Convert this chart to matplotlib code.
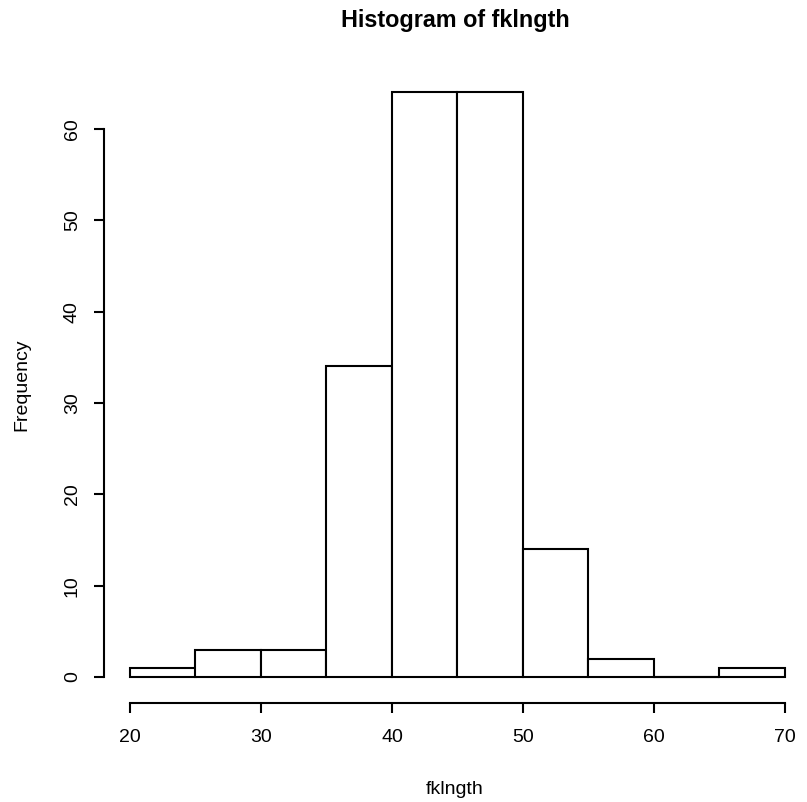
import matplotlib
matplotlib.use("Agg")
import matplotlib.pyplot as plt

plt.rcParams['font.family'] = ['Liberation Sans', 'DejaVu Sans']

bin_edges = [20, 25, 30, 35, 40, 45, 50, 55, 60, 65, 70]
counts = [1, 3, 3, 34, 64, 64, 14, 2, 0, 1]
x_ticks = [20, 30, 40, 50, 60, 70]
y_ticks = [0, 10, 20, 30, 40, 50, 60]

fig = plt.figure(figsize=(8.07, 8.02), dpi=100)
ax = fig.add_axes([103.8 / 807, (802 - 700.4) / 802, 707.4 / 807, 631.3 / 802])

lefts = bin_edges[:-1]
widths = [b - a for a, b in zip(bin_edges[:-1], bin_edges[1:])]
ax.bar(lefts, counts, width=widths, align='edge', facecolor='white',
       edgecolor='black', linewidth=1.5)
# zero-height bins still draw as a line in R
for l, w, c in zip(lefts, widths, counts):
    if c == 0:
        ax.plot([l, l + w], [0, 0], color='black', lw=1.5)

ax.set_xlim(18, 72)
ax.set_ylim(-2.56, 66.56)

for s in ['top', 'right']:
    ax.spines[s].set_visible(False)
ax.spines['left'].set_bounds(0, 60)
ax.spines['bottom'].set_bounds(20, 70)
ax.spines['bottom'].set_position(('outward', 2))
for s in ['left', 'bottom']:
    ax.spines[s].set_linewidth(1.5)

ax.set_xticks(x_ticks)
ax.set_yticks(y_ticks)
ax.set_yticklabels([str(v) for v in y_ticks], rotation=90, va='center')
ax.tick_params(axis='both', length=7.5, width=1.5, labelsize=14, pad=11)
ax.tick_params(axis='y', pad=9)

fig.text(455 / 807, 1 - 21 / 802, 'Histogram of fklngth', fontsize=16.8,
         fontweight='bold', ha='center', va='center')
fig.text(455 / 807, 1 - 790 / 802, 'fklngth', fontsize=14, ha='center', va='center')
fig.text(22 / 807, 1 - 385 / 802, 'Frequency', fontsize=14, ha='center',
         va='center', rotation=90)

fig.savefig('out.png', dpi=100)
